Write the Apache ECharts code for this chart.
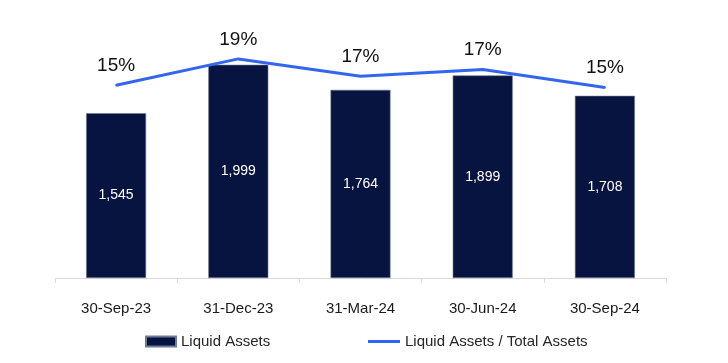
<!DOCTYPE html>
<html>
<head>
<meta charset="utf-8">
<script src="https://cdn.jsdelivr.net/npm/echarts@6/dist/echarts.min.js"></script>
<style>html,body{margin:0;padding:0;background:#fff;}#c{width:728px;height:363px;}</style>
</head>
<body>
<div id="c"></div>
<script>
var categories = ['30-Sep-23', '31-Dec-23', '31-Mar-24', '30-Jun-24', '30-Sep-24'];
var liquidAssets = [1545, 1999, 1764, 1899, 1708];
var liquidRatio = [15.3, 18.8, 16.5, 17.4, 15.0];

var chart = echarts.init(document.getElementById('c'), null, {renderer: 'canvas'});
var font = '"Liberation Sans", Arial, sans-serif';
chart.setOption({
  animation: false,
  textStyle: {fontFamily: font},
  grid: {left: 55, right: 62, top: 22, bottom: 85, containLabel: false},
  legend: [{
    left: 140, top: 329, itemWidth: 30, itemHeight: 10, itemGap: 10,
    textStyle: {fontSize: 15, color: '#262626', fontFamily: font},
    data: [{name: 'Liquid Assets', icon: 'rect'}]
  }, {
    left: 363, top: 329, itemWidth: 32, itemHeight: 10,
    textStyle: {fontSize: 15, color: '#262626', fontFamily: font},
    data: [{name: 'Liquid Assets / Total Assets', icon: 'path://M0,0 H32 V3 H0 Z', itemStyle: {color: '#3366f0'}}]
  }],
  xAxis: {
    type: 'category',
    data: categories,
    boundaryGap: true,
    axisLine: {lineStyle: {color: '#d9d9d9', width: 1}},
    axisTick: {show: true, length: 5, lineStyle: {color: '#d9d9d9'}},
    axisLabel: {fontSize: 15, color: '#1a1a1a', margin: 23, fontFamily: font}
  },
  yAxis: [{
    type: 'value', min: 0, max: 2400, show: false, splitLine: {show: false}
  }, {
    type: 'value', min: -10.3, max: 23.7, show: false, splitLine: {show: false}
  }],
  series: [{
    name: 'Liquid Assets',
    type: 'bar',
    data: liquidAssets,
    barWidth: 60,
    itemStyle: {color: '#06143f', borderColor: '#6e7a96', borderWidth: 0.6},
    label: {
      show: true, position: 'inside', color: '#ffffff', fontSize: 14, fontFamily: font,
      formatter: function (p) { return p.value.toLocaleString('en-US'); }
    }
  }, {
    name: 'Liquid Assets / Total Assets',
    type: 'line',
    yAxisIndex: 1,
    data: liquidRatio,
    color: '#3366f0',
    lineStyle: {color: '#3366f0', width: 3},
    symbol: 'circle',
    symbolSize: 2,
    itemStyle: {color: '#3366f0'},
    z: 5,
    label: {
      show: true, position: 'top', distance: 9, fontSize: 19, color: '#111111', fontFamily: font,
      formatter: function (p) { return Math.round(p.value) + '%'; }
    }
  }]
});
</script>
</body>
</html>
